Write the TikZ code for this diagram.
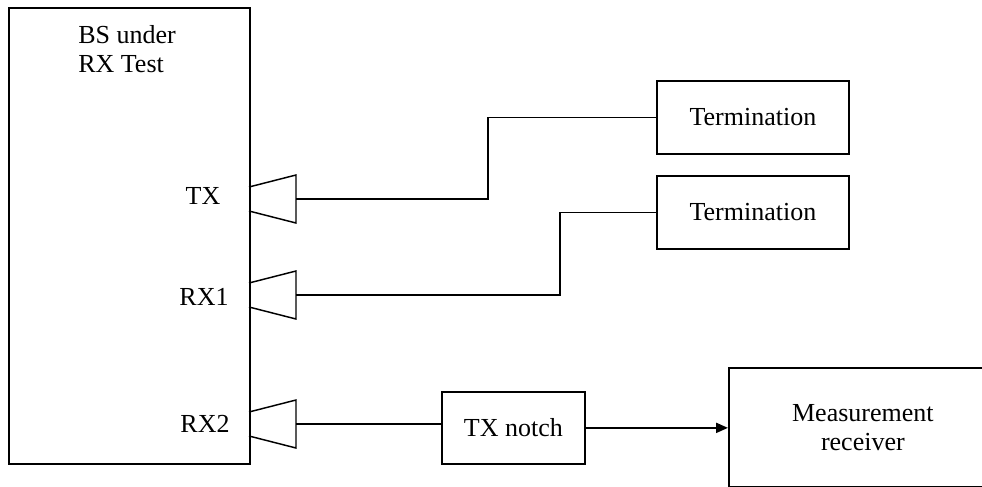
\documentclass[tikz,border=0pt]{standalone}
\usepackage{fontspec}
\setmainfont{Liberation Serif}
\usetikzlibrary{arrows.meta}

\tikzset{
  blockbox/.style={draw, line width=1.3pt, inner sep=0pt, align=center, font=\fontsize{19.5}{21.75}\selectfont},
  wire/.style={line width=1pt},
  portshape/.style={line width=1.1pt},
  lbl/.style={inner sep=0.75pt, font=\fontsize{19.5}{21.75}\selectfont}
}

\begin{document}
\begin{tikzpicture}[x=0.75pt,y=0.75pt,yscale=-1,xscale=1]
    \useasboundingbox (0,0) rectangle (982,486);
    \clip (0,0) rectangle (982,486);

    % BS box
    \node (bs) [blockbox, anchor=north west, minimum width=180.75pt, minimum height=342pt] at (8,7) {};
    \node (bstxt) [lbl, anchor=north west, align=left] at (77,24) {BS under\\RX Test};

    % ports
    \foreach \nm/\yy in {tx/199, rx1/295, rx2/424} {
        \draw [portshape] (249,\yy-12) -- (296,\yy-24) -- (296,\yy+24) -- (249,\yy+12) ;
        \coordinate (\nm) at (296,\yy);
    }
    \node (txlbl) [lbl] at (203,196) {TX};
    \node (rx1lbl) [lbl] at (204,297) {RX1};
    \node (rx2lbl) [lbl] at (205,424) {RX2};

    % blocks
    \node (term1) [blockbox, anchor=north west, minimum width=144pt, minimum height=54.75pt] at (656,80) {Termination};
    \node (term2) [blockbox, anchor=north west, minimum width=144pt, minimum height=54.75pt] at (656,175) {Termination};
    \node (notch) [blockbox, anchor=north west, minimum width=107.25pt, minimum height=54pt] at (441,391) {TX notch};
    \node (recv) [blockbox, anchor=north west, minimum width=201pt, minimum height=89.25pt] at (728,367) {Measurement\\receiver};

    % connections
    \draw [wire] (tx) -- ++(192,0) |- (term1.west) ;
    \draw [wire] (rx1) -- ++(264,0) |- (term2.west) ;
    \draw [wire] (rx2) -- (rx2 -| notch.west) ;
    \draw [line width=1.6pt, -{Triangle[length=9pt,width=7.5pt]}] (notch.east) -- (notch.east -| recv.west) ;

\end{tikzpicture}
\end{document}
